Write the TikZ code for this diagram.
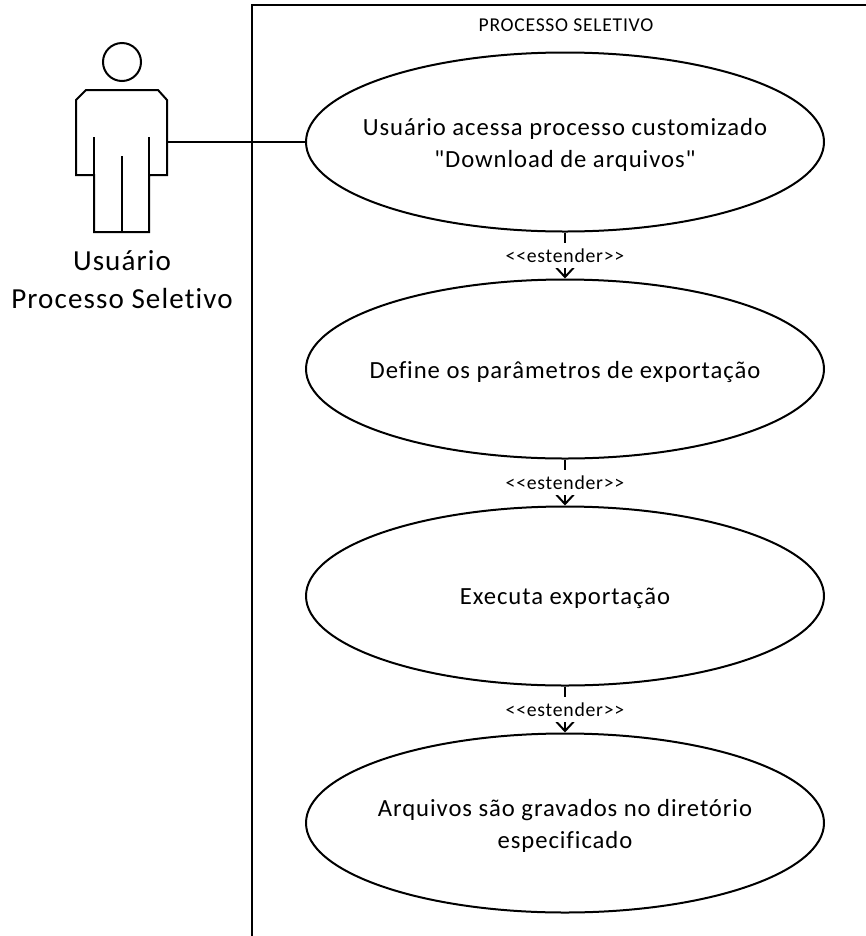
\documentclass[tikz,border=0pt]{standalone}
\usepackage{fontspec}
\setmainfont[Ligatures={TeXOff,CommonOff},LetterSpace=3.8]{Carlito}
\usetikzlibrary{arrows.meta,shapes.geometric}
\tikzset{
	usecase/.style={draw, ellipse, minimum width=518*0.75pt, minimum height=179*0.75pt, inner sep=0pt},
	usecasetext/.style={yshift=-2pt, align=center, font=\fontsize{18.5pt}{24pt}\selectfont},
	extend/.style={-{Straight Barb[length=7pt, width=13pt]}},
	extendlabel/.style={fill=white, inner sep=0pt, minimum height=19pt, font=\fontsize{14.8pt}{16pt}\selectfont},
}
\begin{document}
\begin{tikzpicture}[x=0.75pt, y=-0.75pt, line width=1.5pt]
	\useasboundingbox (0,0) rectangle (866,936);
	% System boundary
	\draw (866,5) -- (252,5) -- (252,936);
	\node[font=\fontsize{14.7pt}{16pt}\selectfont] (title) at (566,25) {PROCESSO SELETIVO};
	% Actor
	\draw (122,62) circle (19);
	\draw (86,90) -- (158,90) -- (167,100) -- (167,175) -- (149,175) -- (149,232) -- (94,232) -- (94,175) -- (76,175) -- (76,100) -- cycle;
	\draw (94,137) -- (94,175);
	\draw (149,137) -- (149,175);
	\draw (122,156) -- (122,232);
	\coordinate (actor) at (167,142);
	\node[align=center, font=\fontsize{21.8pt}{28.5pt}\selectfont] (actorlabel) at (122,280) {Usuário\\Processo Seletivo};
	% Use cases
	\node[usecase] (access) at (565,142) {};
	\node[usecasetext] (accesstext) at (access) {Usuário acessa processo customizado\\"Download de arquivos"};
	\node[usecase] (params) at (565,369) {};
	\node[usecasetext] (paramstext) at (params) {Define os parâmetros de exportação};
	\node[usecase] (run) at (565,596) {};
	\node[usecasetext] (runtext) at (run) {Executa exportação};
	\node[usecase] (saved) at (565,823) {};
	\node[usecasetext] (savedtext) at (saved) {Arquivos são gravados no diretório\\especificado};
	% Connectors
	\draw (actor) -- (access);
	\draw[extend] (access) -- node[extendlabel] {<<estender>>} (params);
	\draw[extend] (params) -- node[extendlabel] {<<estender>>} (run);
	\draw[extend] (run) -- node[extendlabel] {<<estender>>} (saved);
\end{tikzpicture}
\end{document}
